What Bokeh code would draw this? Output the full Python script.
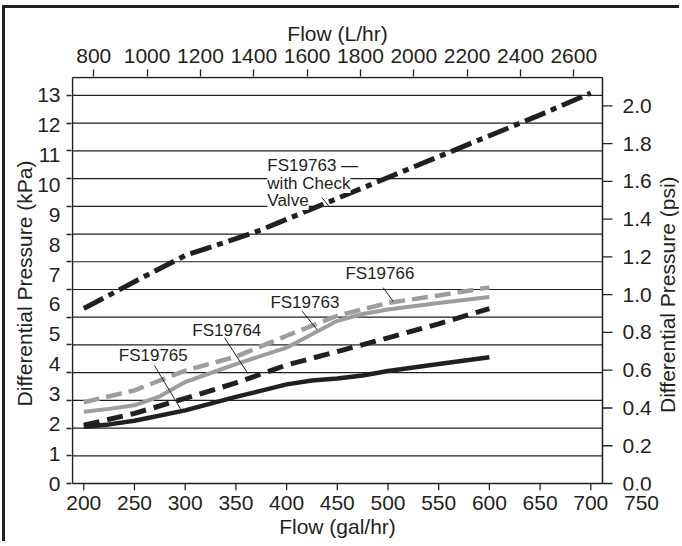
import math
from bokeh.plotting import figure
from bokeh.models import (LinearAxis, Range1d, FixedTicker, Label, ColumnDataSource,
                          CustomJSTickFormatter, Title)
from bokeh.core.properties import value
from bokeh.embed import file_html
from bokeh.resources import INLINE

FONT = "Liberation Sans"
INK = "#231f20"
GRAY = "#9d9d9d"

# ---------------- data (flow in gal/hr, differential pressure in kPa) ----------------
check_flow = [200, 250, 300, 350, 375, 400, 450, 500, 550, 600, 650, 700]
check_dp = [5.86, 6.76, 7.64, 8.2, 8.5, 8.85, 9.55, 10.25, 10.95, 11.65, 12.35, 13.08]

fs19763_flow = [200, 225, 250, 275, 300, 350, 400, 425, 450, 475, 500, 550, 600]
fs19763_dp = [2.4, 2.5, 2.62, 2.92, 3.4, 4.0, 4.55, 5.0, 5.45, 5.68, 5.83, 6.05, 6.25]

fs19766_flow = [200, 250, 300, 350, 400, 450, 500, 550, 600]
fs19766_dp = [2.72, 3.12, 3.78, 4.25, 4.95, 5.62, 6.05, 6.3, 6.57]

fs19764_flow = [200, 250, 300, 350, 400, 450, 500, 550, 600]
fs19764_dp = [1.95, 2.35, 2.85, 3.37, 3.97, 4.42, 4.88, 5.35, 5.86]

fs19765_flow = [200, 225, 250, 300, 350, 400, 425, 450, 475, 500, 550, 600]
fs19765_dp = [1.9, 1.98, 2.1, 2.45, 2.9, 3.32, 3.45, 3.52, 3.62, 3.77, 4.0, 4.23]

gal_ticks = [200, 250, 300, 350, 400, 450, 500, 550, 600, 650, 700]
gal_labels_extra = [750]
lph_ticks = [800, 1000, 1200, 1400, 1600, 1800, 2000, 2200, 2400, 2600]
kpa_ticks = [0, 1, 2, 3, 4, 5, 6, 7, 8, 9, 10, 11, 12, 13]
psi_ticks = [0.0, 0.2, 0.4, 0.6, 0.8, 1.0, 1.2, 1.4, 1.6, 1.8, 2.0]
psi_labels = ["0.0", "0.2", "0.4", "0.6", "0.8", "1.0", "1.2", "1.4", "1.6", "1.8", "2.0"]
grid_divisions = 14

x_title_bottom = "Flow (gal/hr)"
x_title_top = "Flow (L/hr)"
y_title_left = "Differential Pressure (kPa)"
y_title_right = "Differential Pressure (psi)"

# annotation labels (gal/hr, kPa) and leader lines
label_text = ["FS19763 \u2014", "with Check", "Valve", "FS19766", "FS19763", "FS19764", "FS19765"]
label_x = [381, 381, 381, 458, 384, 307, 234.5]
label_y = [10.65, 10.05, 9.48, 7.03, 6.07, 5.13, 4.29]
label_bg = [True, True, True, False, False, False, False]
leader_x0 = [434.7, 495.3, 415.4, 338.8, 269.7]
leader_y0 = [9.58, 6.56, 5.77, 4.88, 3.95]
leader_x1 = [441.3, 505.1, 430.2, 362.1, 295.4]
leader_y1 = [9.31, 6.10, 5.15, 3.67, 2.50]

# ---------------- layout (canvas pixels) ----------------
W, H = 677, 536
FL, FT, FB = 66, 68, 482           # frame left / top / bottom; frame runs to the right edge
BOX_L, BOX_R, BOX_T, BOX_B = 67, 597, 69, 475   # the drawn plot box
PX_GAL = 1.014                      # pixels per gal/hr
PX_KPA = 29.85                      # pixels per kPa
PX_PSI = 188.8                      # pixels per psi
PX_LPH = 0.26667                    # pixels per L/hr
X200 = 78.3                         # pixel of 200 gal/hr
X800L = 88.3                        # pixel of 800 L/hr
TICK_FONT = "21px"
TITLE_FONT = "21px"
box_center = (BOX_L + BOX_R) / 2


def gx(px):
    return 200 + (px - X200) / PX_GAL


def ky(py):
    return (BOX_B - py) / PX_KPA


x_range = Range1d(gx(FL), gx(W))
y_range = Range1d(ky(FB), ky(FT))
box_left, box_right = gx(BOX_L), gx(BOX_R)
box_top = ky(BOX_T)

p = figure(width=W, height=H, output_backend="svg", toolbar_location=None,
           x_range=x_range, y_range=y_range,
           x_axis_location=None, y_axis_location=None,
           min_border_left=FL, min_border_right=0,
           min_border_top=FT, min_border_bottom=H - FB,
           background_fill_color="white", border_fill_color="white")
p.styles = {"margin-left": "2px", "margin-top": "5px",
            "border-top": "3px solid #231f20", "border-left": "3px solid #231f20"}
p.outline_line_color = None
p.xgrid.visible = False
p.ygrid.visible = False

p.extra_x_ranges = {"lph": Range1d(800 - (X800L - FL) / PX_LPH, 800 + (W - X800L) / PX_LPH)}
p.extra_y_ranges = {"psi": Range1d(-(FB - BOX_B) / PX_PSI, (BOX_B - FT) / PX_PSI)}

top_kpa = kpa_ticks[-1]
grid_pos = [i * top_kpa / grid_divisions for i in range(grid_divisions + 1)]


def style_axis(ax, tick_out, standoff, title_standoff):
    ax.axis_line_color = None
    ax.major_tick_line_color = INK
    ax.major_tick_line_width = 1.3
    ax.major_tick_in = 0
    ax.major_tick_out = tick_out
    ax.minor_tick_in = 0
    ax.minor_tick_out = 0
    ax.major_label_standoff = standoff
    ax.axis_label_standoff = title_standoff
    ax.major_label_text_font = FONT
    ax.major_label_text_font_size = TICK_FONT
    ax.major_label_text_color = INK
    ax.axis_label_text_font = FONT
    ax.axis_label_text_font_size = TITLE_FONT
    ax.axis_label_text_font_style = "normal"
    ax.axis_label_text_color = INK


ax_b = LinearAxis(ticker=FixedTicker(ticks=gal_ticks + gal_labels_extra))
style_axis(ax_b, 0, 5, 0)
p.add_layout(ax_b, "below")

ax_t = LinearAxis(x_range_name="lph", ticker=FixedTicker(ticks=lph_ticks))
style_axis(ax_t, 7, 7, 0)
p.add_layout(ax_t, "above")

ax_l_ticks = LinearAxis(ticker=FixedTicker(ticks=grid_pos),
                        formatter=CustomJSTickFormatter(code="return ''"))
style_axis(ax_l_ticks, 5, 0, 0)
p.add_layout(ax_l_ticks, "left")

ax_l = LinearAxis(ticker=FixedTicker(ticks=kpa_ticks), axis_label=y_title_left)
style_axis(ax_l, 0, 6, -2)
ax_l.major_tick_line_color = None
p.add_layout(ax_l, "left")


# horizontal axis titles, centred over the drawn plot box (not the wider frame)
def box_title(text, em_width, standoff):
    width = em_width * 21
    return Title(text=text, align="left", offset=box_center - width / 2 - FL, standoff=standoff,
                 text_font=FONT, text_font_size=TITLE_FONT, text_font_style="normal",
                 text_color=INK)


p.add_layout(box_title(x_title_bottom, 5.556, 1), "below")
p.add_layout(box_title(x_title_top, 4.778, 2), "above")

# ---------------- grid lines and plot box ----------------
n = len(grid_pos)
p.segment(x0=[box_left] * n, y0=grid_pos, x1=[box_right] * n, y1=grid_pos,
          line_color=INK, line_width=1.2)
p.segment(x0=[box_left, box_left, box_right, box_left],
          y0=[0, box_top, 0, 0],
          x1=[box_right, box_right, box_right, box_left],
          y1=[0, box_top, box_top, box_top],
          line_color=INK, line_width=1.5)

# bottom tick marks (gal/hr)
tick_len = 7 / PX_KPA
p.segment(x0=gal_ticks, y0=[0] * len(gal_ticks), x1=gal_ticks, y1=[-tick_len] * len(gal_ticks),
          line_color=INK, line_width=1.3)

# right-hand psi scale
rt_len = 10 / PX_GAL
p.segment(x0=[box_right] * len(psi_ticks), y0=psi_ticks,
          x1=[box_right + rt_len] * len(psi_ticks), y1=psi_ticks,
          y_range_name="psi", line_color=INK, line_width=1.3)
p.text(x=[box_right + 20 / PX_GAL] * len(psi_ticks), y=psi_ticks, text=psi_labels,
       y_range_name="psi", text_align="left", text_baseline="middle",
       text_font=value(FONT), text_font_size=TICK_FONT, text_color=INK)
p.text(x=[gx(662)], y=[1.0], text=[y_title_right], angle=math.pi / 2,
       y_range_name="psi", text_align="center", text_baseline="middle",
       text_font=value(FONT), text_font_size=TITLE_FONT, text_color=INK)

# ---------------- curves ----------------
p.line(fs19763_flow, fs19763_dp, line_color=GRAY, line_width=4)
p.line(fs19766_flow, fs19766_dp, line_color=GRAY, line_width=4.5, line_dash="16 7")
p.line(fs19765_flow, fs19765_dp, line_color=INK, line_width=4.5)
p.line(fs19764_flow, fs19764_dp, line_color=INK, line_width=5, line_dash="16 8")
p.line(check_flow, check_dp, line_color=INK, line_width=5, line_dash="22 6 6 6")

# ---------------- annotations ----------------
leaders = ColumnDataSource(dict(x0=leader_x0, y0=leader_y0, x1=leader_x1, y1=leader_y1))
p.segment("x0", "y0", "x1", "y1", source=leaders, line_color=INK, line_width=1)

for t, x, y, bg in zip(label_text, label_x, label_y, label_bg):
    lab = Label(x=x, y=y, text=t, text_align="left", text_baseline="middle",
                text_font=FONT, text_font_size="17px", text_color=INK)
    if bg:
        lab.background_fill_color = "white"
    p.add_layout(lab)

open("out.html", "w").write(file_html(p, INLINE))
